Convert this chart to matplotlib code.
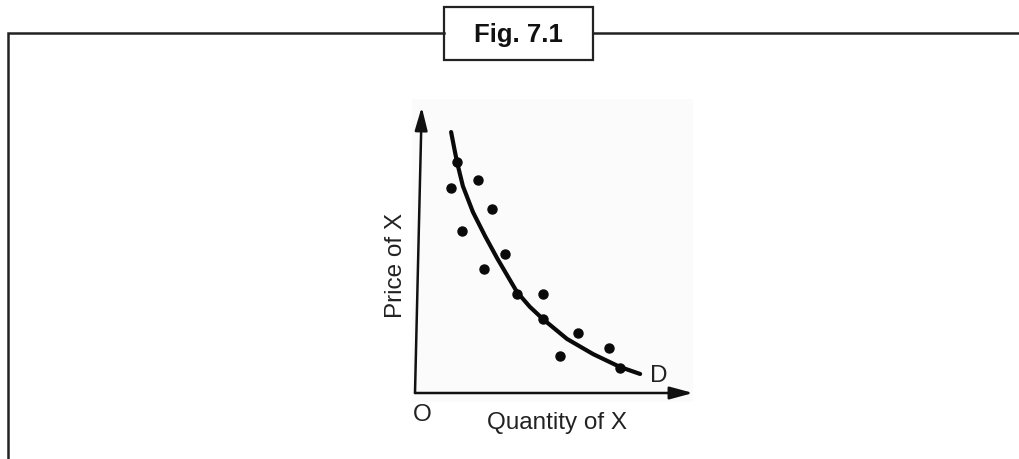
import matplotlib
matplotlib.use('Agg')
import matplotlib.pyplot as plt
from matplotlib.patches import FancyArrowPatch, Rectangle

plt.rcParams['font.family'] = ['Liberation Sans', 'DejaVu Sans']

qty = [1.50, 1.29, 2.25, 2.75, 1.68, 3.21, 2.46, 3.64, 4.57, 4.57, 5.82, 5.18, 6.93, 7.32]
price = [8.25, 7.32, 7.61, 6.57, 5.79, 4.96, 4.43, 3.54, 3.54, 2.64, 2.14, 1.32, 1.61, 0.89]

# Demand curve D, traced points
curve_q = [1.29, 1.40, 1.50, 1.71, 2.07, 2.50, 2.93, 3.64, 4.10, 4.57, 5.43, 6.36, 7.32, 8.04]
curve_p = [9.32, 8.75, 8.25, 7.39, 6.46, 5.61, 4.82, 3.61, 3.08, 2.64, 1.93, 1.39, 0.93, 0.68]

title = 'Fig. 7.1'
x_label = 'Quantity of X'
y_label = 'Price of X'

W, H = 1020, 460
fig = plt.figure(figsize=(W / 100, H / 100), dpi=100)
fig.patch.set_facecolor('white')

# Page frame in pixel coordinates
frame = fig.add_axes([0, 0, 1, 1], zorder=0)
frame.set_xlim(0, W)
frame.set_ylim(H, 0)
frame.axis('off')

line_col = '#222222'
frame.plot([8.5, 8.5, 444], [H, 34, 34], color=line_col, lw=1.8, solid_joinstyle='miter')
frame.plot([593, W], [34, 34], color=line_col, lw=1.8)
frame.add_patch(Rectangle((444, 8), 149, 53, fill=False, ec=line_col, lw=1.6))
frame.text(518.5, 35, title, ha='center', va='center', fontsize=18.5,
           fontweight='bold', color='#111111')

frame.text(396, 266, y_label, rotation=90, ha='center', va='center',
           fontsize=17.5, color='#222222')
frame.text(557, 423, x_label, ha='center', va='center', fontsize=17.5, color='#222222')
frame.text(422, 415, 'O', ha='center', va='center', fontsize=17.5, color='#222222')

# Chart area
x0, y0 = 415, 394  # origin in pixels
scale = 28.0
left, right, top, bottom = 412, 693, 100, 403
ax = fig.add_axes([left / W, (H - bottom) / H, (right - left) / W, (bottom - top) / H], zorder=1)
ax.set_facecolor('#fbfbfb')
ax.set_xlim((left - x0) / scale, (right - x0) / scale)
ax.set_ylim((y0 - bottom) / scale, (y0 - top) / scale)
for s in ax.spines.values():
    s.set_visible(False)
ax.set_xticks([])
ax.set_yticks([])

# Axes arrows
xmax = (right - x0) / scale
ytop = (y0 - 108) / scale
for start, end in [((0, 0), (xmax, 0)), ((0, 0), (0.24, ytop))]:
    ax.add_patch(FancyArrowPatch(start, end, arrowstyle='-|>,head_length=14,head_width=3.8',
                                 mutation_scale=1, shrinkA=0, shrinkB=0, lw=1.8,
                                 color='#111111', clip_on=False))

ax.plot(curve_q, curve_p, color='#0a0a0a', lw=3.0, solid_capstyle='round',
        solid_joinstyle='round')
ax.plot(qty, price, 'o', color='#0a0a0a', markersize=6.5)
ax.text(8.71, 0.64, 'D', ha='center', va='center', fontsize=17.5, color='#222222')

fig.savefig('out.png', dpi=100)
